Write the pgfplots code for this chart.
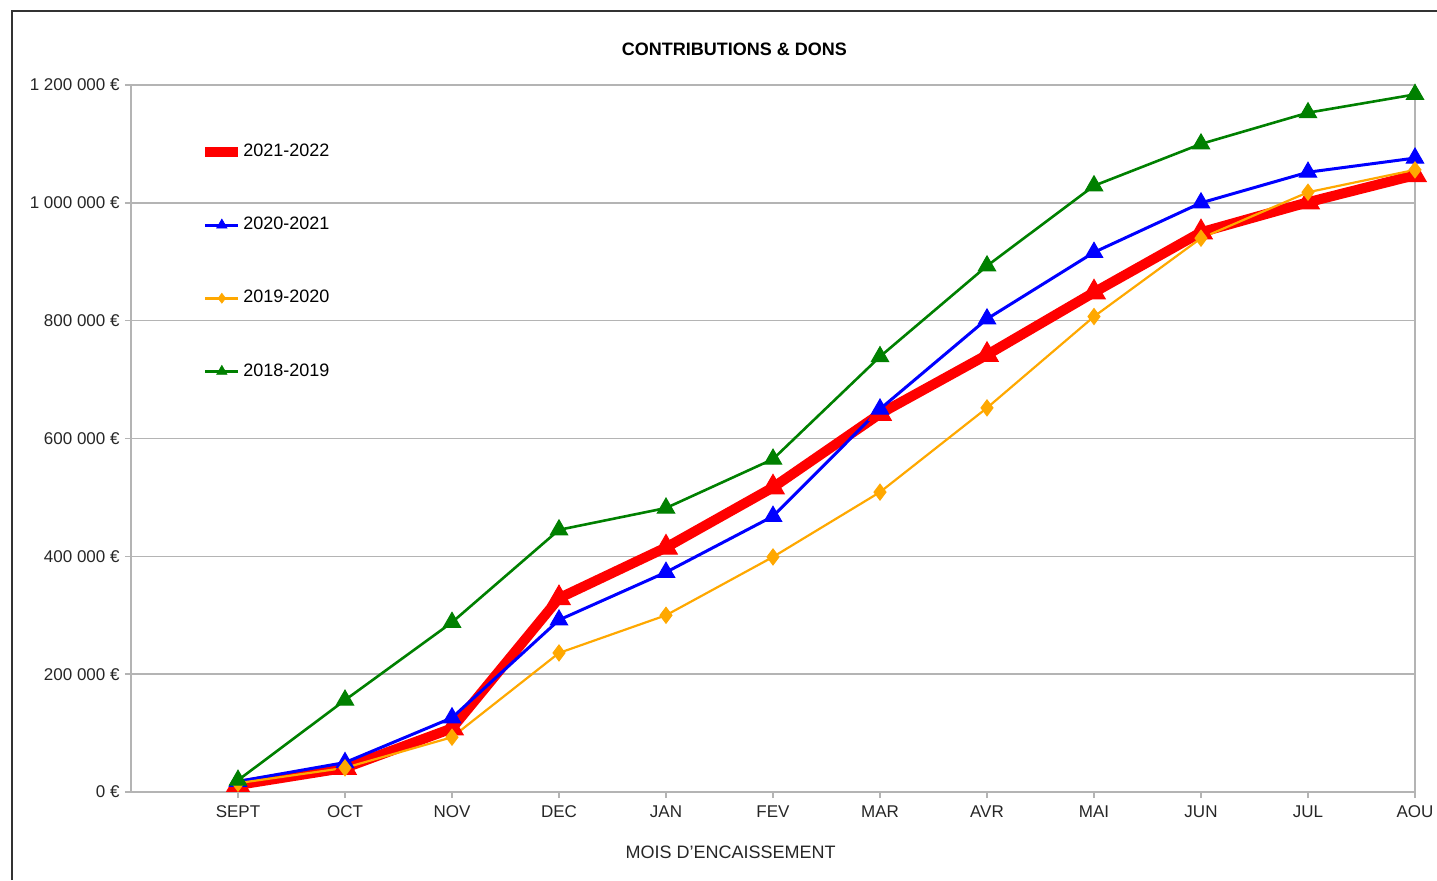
\documentclass[border=0pt]{standalone}
\usepackage{fontspec}
\setmainfont{Liberation Sans}
\usepackage{pgfplots}
\pgfplotsset{compat=1.18}
\definecolor{cred}{RGB}{255,0,0}
\definecolor{cblue}{RGB}{0,0,255}
\definecolor{corange}{RGB}{255,168,0}
\definecolor{cgreen}{RGB}{0,128,0}
\definecolor{cgrid}{RGB}{180,180,180}
\begin{document}
\begin{tikzpicture}
\useasboundingbox (0,0) rectangle (718.5pt,-440pt);
\draw[line width=1pt, black!80] (6pt,-440pt) -- (6pt,-5.5pt) -- (718.5pt,-5.5pt);
\begin{axis}[
  at={(65.5pt,-396pt)}, anchor=south west,
  scale only axis, width=642pt, height=353.5pt,
  xmin=0, xmax=12, ymin=0, ymax=1200000,
  clip=false,
  xtick={1,2,3,4,5,6,7,8,9,10,11,12},
  xticklabels={SEPT,OCT,NOV,DEC,JAN,FEV,MAR,AVR,MAI,JUN,JUL,AOU},
  ytick={0,200000,400000,600000,800000,1000000,1200000},
  yticklabels={0 €,200 000 €,400 000 €,600 000 €,800 000 €,1 000 000 €,1 200 000 €},
  scaled y ticks=false,
  axis line style={draw=cgrid, line width=0.75pt},
  ymajorgrids, grid style={cgrid, line width=0.75pt},
  tick align=outside, major tick length=3pt, tick style={cgrid, line width=0.75pt},
  xtick pos=bottom, ytick pos=left,
  yticklabel style={font=\fontsize{8.5}{10}\selectfont, inner sep=0pt, text=black!85},
  xticklabel style={font=\fontsize{8.5}{10}\selectfont, inner sep=0pt, text=black!85},
  yticklabel shift=2.5pt, xticklabel shift=3.5pt,
  title={CONTRIBUTIONS \& DONS},
  title style={at={(axis description cs:0.470,1)}, anchor=base, yshift=9pt, inner sep=0pt, font=\fontsize{9}{10}\selectfont\bfseries},
  xlabel={MOIS D'ENCAISSEMENT},
  xlabel style={at={(axis description cs:0.467,0)}, anchor=north, yshift=-27pt, inner sep=0pt, font=\fontsize{9}{10}\selectfont, text=black!85},
  legend cell align=left,
  legend image code/.code={\draw[mark repeat=2,mark phase=2,#1] plot coordinates {(0pt,0pt) (8.25pt,0pt) (16.5pt,0pt)};},
  legend style={at={(axis description cs:0.0537,0.917)}, anchor=north west, draw=none, fill=none, inner sep=0pt, row sep=28.8pt, column sep=0pt, font=\fontsize{9}{10}\selectfont, nodes={inner sep=0pt}},
]
\addplot[cred, line width=5pt, mark=triangle*, mark size=6.5pt, mark options={line width=0.5pt, fill=cred}, forget plot] coordinates {
(1,12000) (2,41000) (3,108000) (4,329000) (5,415000) (6,517000) (7,642000) (8,742000) (9,848000) (10,950000) (11,1001000) (12,1047000)};
\addplot[cblue, line width=1.5pt, mark=triangle*, mark size=5pt, mark options={line width=0.5pt, fill=cblue}, forget plot] coordinates {
(1,18000) (2,50000) (3,126000) (4,292000) (5,373000) (6,468000) (7,650000) (8,803000) (9,916000) (10,1000000) (11,1052000) (12,1076000)};
\addplot[corange, line width=1.1pt, mark=diamond*, mark size=4pt, mark options={line width=0.5pt, fill=corange}, forget plot] coordinates {
(1,15000) (2,41000) (3,93000) (4,236000) (5,300000) (6,399000) (7,509000) (8,652000) (9,807000) (10,940000) (11,1018000) (12,1056000)};
\addplot[cgreen, line width=1.3pt, mark=triangle*, mark size=5pt, mark options={line width=0.5pt, fill=cgreen}, forget plot] coordinates {
(1,20000) (2,156000) (3,288000) (4,445000) (5,482000) (6,565000) (7,739000) (8,893000) (9,1029000) (10,1100000) (11,1153000) (12,1184000)};
\addlegendimage{cred, line width=5pt}
\addlegendentry{2021-2022}
\addlegendimage{cblue, line width=1.5pt, mark=triangle*, mark size=3pt, mark options={line width=0.3pt, fill=cblue}}
\addlegendentry{2020-2021}
\addlegendimage{corange, line width=1.5pt, mark=diamond*, mark size=2.5pt, mark options={line width=0.3pt, fill=corange}}
\addlegendentry{2019-2020}
\addlegendimage{cgreen, line width=1.5pt, mark=triangle*, mark size=3pt, mark options={line width=0.3pt, fill=cgreen}}
\addlegendentry{2018-2019}
\end{axis}
\end{tikzpicture}
\end{document}
